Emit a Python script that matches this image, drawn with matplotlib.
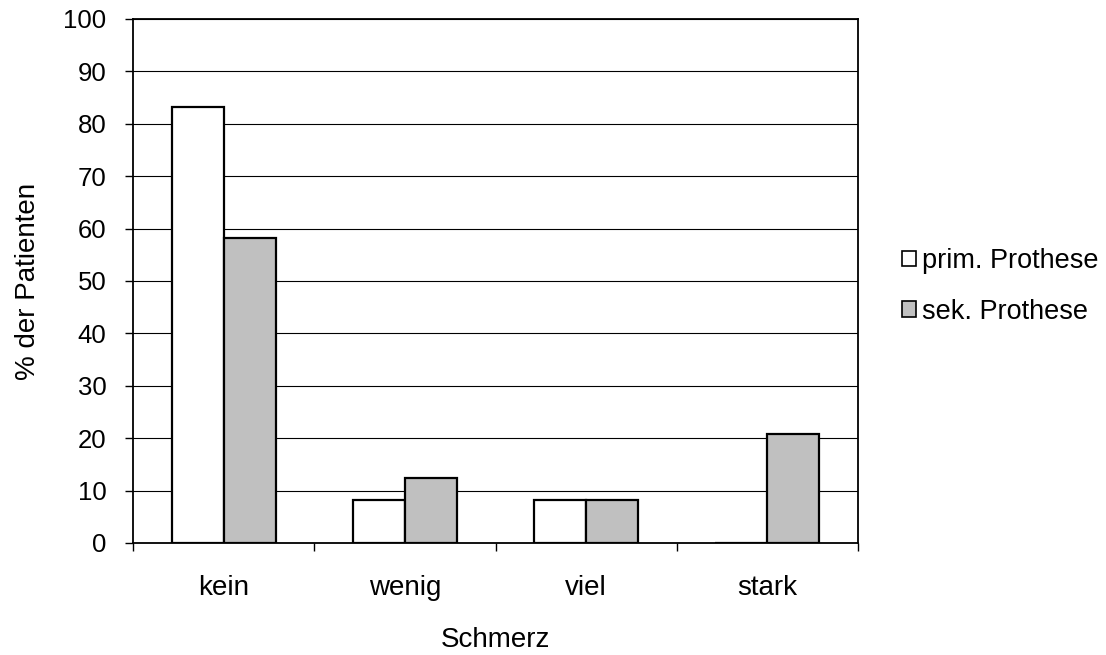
import matplotlib
matplotlib.use("Agg")
import matplotlib.pyplot as plt
import numpy as np

categories = ["kein", "wenig", "viel", "stark"]
series_names = ["prim. Prothese", "sek. Prothese"]
prim_values = [83.3, 8.3, 8.3, 0.0]
sek_values = [58.3, 12.5, 8.3, 20.8]
y_ticks = [0, 10, 20, 30, 40, 50, 60, 70, 80, 90, 100]

plt.rcParams["font.family"] = ["Liberation Sans", "DejaVu Sans"]
FS = 20

fig = plt.figure(figsize=(11.06, 6.55), dpi=100)
ax = fig.add_axes([133 / 1106, 1 - 543 / 655, (858 - 133) / 1106, (543 - 19) / 655])

x = np.arange(len(categories))
w = 0.287
ax.bar(x - w / 2, prim_values, w, color="white", edgecolor="black",
       linewidth=1.6, label=series_names[0], zorder=3)
ax.bar(x + w / 2, sek_values, w, color="#C0C0C0", edgecolor="black",
       linewidth=1.6, label=series_names[1], zorder=3)

ax.set_xlim(-0.5, len(categories) - 0.5)
ax.set_ylim(0, 100)
ax.set_yticks(y_ticks)
ax.yaxis.grid(True, color="black", linewidth=0.8, zorder=0)
ax.set_axisbelow(True)

# category boundaries get tick marks, labels sit in between
ax.set_xticks(np.arange(len(categories) + 1) - 0.5)
ax.set_xticklabels([])
ax.set_xticks(x, minor=True)
ax.set_xticklabels(categories, minor=True, fontsize=FS)
ax.tick_params(axis="x", which="major", direction="out", length=6, width=1)
ax.tick_params(axis="x", which="minor", length=0, pad=23)
ax.tick_params(axis="y", direction="out", length=6, width=1, labelsize=18.5, pad=13)

for s in ax.spines.values():
    s.set_linewidth(1.3)
    s.set_color("black")

ax.set_xlabel("Schmerz", fontsize=FS, labelpad=19)
ax.set_ylabel("% der Patienten", fontsize=FS, labelpad=16)

leg = ax.legend(loc="center left", bbox_to_anchor=(1.0458, 0.4895), frameon=False,
                fontsize=19.5, handlelength=0.5, handleheight=0.5,
                handletextpad=0.25, labelspacing=0.9, borderaxespad=0)
for h in leg.legend_handles:
    h.set_linewidth(1.2)

fig.savefig("out.png", dpi=100)
